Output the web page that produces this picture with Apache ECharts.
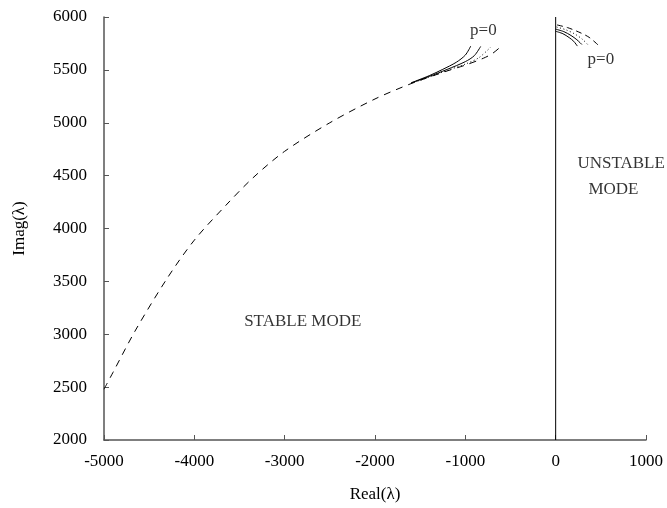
<!DOCTYPE html>
<html>
<head>
<meta charset="utf-8">
<script src="https://cdn.jsdelivr.net/npm/echarts@6/dist/echarts.min.js"></script>
<style>html,body{margin:0;padding:0;background:#fff;}#c{width:667px;height:508px;}</style>
</head>
<body>
<div id="c"></div>
<script>
// Stable branch (left) curves
var stableDashed = [[-5000,2480],[-4900,2640],[-4650,3040],[-4300,3530],[-4000,3890],[-3650,4220],[-3350,4480],[-3000,4730],[-2500,5000],[-2000,5225],[-1600,5370],[-1200,5490],[-1000,5545],[-800,5610],[-700,5655],[-600,5725]];
var stableDotted = [[-1600,5372],[-1400,5432],[-1200,5495],[-1000,5555],[-850,5615],[-720,5715]];
var stableSolid2 = [[-1600,5375],[-1400,5438],[-1200,5505],[-1000,5578],[-900,5635],[-830,5722]];
var stableSolid1 = [[-1600,5378],[-1400,5445],[-1250,5505],[-1100,5572],[-1000,5640],[-940,5725]];
// Unstable branch (right) curves
var unstableSolid1 = [[0,5865],[80,5842],[150,5805],[200,5770],[240,5725]];
var unstableSolid2 = [[0,5885],[90,5862],[170,5825],[235,5785],[290,5740]];
var unstableDotted = [[10,5905],[110,5880],[210,5840],[295,5790],[360,5735]];
var unstableDashed = [[15,5925],[130,5900],[250,5860],[370,5808],[470,5735]];
// boundary line at Real = 0
var boundary = [[0,2000],[0,6000]];
// text annotations [x, y, text]
var annotations = [[-800,5870,'p=0'],[500,5595,'p=0'],[-2800,3120,'STABLE MODE'],[725,4610,'UNSTABLE'],[640,4365,'MODE']];
var xTicks = {min:-5000, max:1000, interval:1000};
var yTicks = {min:2000, max:6000, interval:500};

var FONT = 'Liberation Serif';
var chart = echarts.init(document.getElementById('c'));
function lineSeries(data, type){
  return {type:'line', data:data, showSymbol:false, symbol:'none', smooth:0.3,
    lineStyle:{color:'#000', width:1, type:type}, silent:true, z:3};
}
function plain(v){ return String(v); }
chart.setOption({
  animation:false,
  backgroundColor:'#fff',
  grid:{left:104, right:21, top:17, bottom:68, containLabel:false},
  xAxis:{type:'value', min:xTicks.min, max:xTicks.max, interval:xTicks.interval,
    name:'Real(λ)', nameLocation:'middle', nameGap:46,
    nameTextStyle:{fontFamily:FONT, fontSize:17, color:'#000'},
    axisLine:{show:true, onZero:false, lineStyle:{color:'#555', width:1.5}},
    axisTick:{show:true, inside:true, length:5, lineStyle:{color:'#555'}},
    axisLabel:{fontFamily:FONT, fontSize:17, color:'#000', margin:13, formatter:plain},
    splitLine:{show:false}},
  yAxis:{type:'value', min:yTicks.min, max:yTicks.max, interval:yTicks.interval,
    name:'Imag(λ)', nameLocation:'middle', nameGap:76, nameRotate:90,
    nameTextStyle:{fontFamily:FONT, fontSize:17, color:'#000'},
    axisLine:{show:true, onZero:false, lineStyle:{color:'#555', width:1.5}},
    axisTick:{show:true, inside:true, length:5, lineStyle:{color:'#555'}},
    axisLabel:{fontFamily:FONT, fontSize:17, color:'#000', margin:17, formatter:plain},
    splitLine:{show:false}},
  series:[
    {type:'line', data:boundary, showSymbol:false, symbol:'none', lineStyle:{color:'#000', width:1}, silent:true, z:2},
    lineSeries(stableDashed, [7,6]),
    lineSeries(stableDotted, [1,2.5]),
    lineSeries(stableSolid2, 'solid'),
    lineSeries(stableSolid1, 'solid'),
    lineSeries(unstableSolid1, 'solid'),
    lineSeries(unstableSolid2, 'solid'),
    lineSeries(unstableDotted, [1,2.5]),
    lineSeries(unstableDashed, [6,4]),
    {type:'scatter', symbolSize:0, silent:true, z:5,
      data:annotations.map(function(a){return {value:[a[0],a[1]], name:a[2]};}),
      label:{show:true, position:'inside', formatter:function(p){return p.name;},
        fontFamily:FONT, fontSize:17, color:'#000'}}
  ]
});
</script>
</body>
</html>
